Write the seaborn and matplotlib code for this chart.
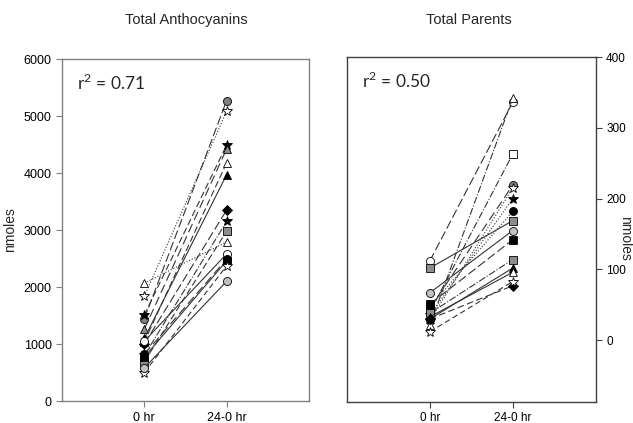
import matplotlib
matplotlib.use("Agg")
import matplotlib.pyplot as plt
import seaborn as sns
import pandas as pd

# ---------------- data ----------------
timepoints = ["0 hr", "24-0 hr"]

anth_0hr = [1440, 1840, 1510, 1260, 2070, 1040, 1100, 1000, 800, 690, 1050, 820, 770, 500, 580]
anth_24hr = [5270, 5080, 4490, 4420, 2790, 4180, 3970, 3350, 3150, 2980, 2580, 2490, 2460, 2370, 2100]
anth_markers = ["o", "*", "*", "^", "^", "^", "^", "D", "*", "s", "o", "o", "s", "*", "o"]
anth_fills = ["#7f7f7f", "white", "black", "#8c8c8c", "white", "white", "black", "black",
              "black", "#8c8c8c", "white", "black", "black", "white", "#c0c0c0"]
anth_styles = [(0, (8, 3)), ":", (0, (6, 3)), (0, (8, 4)), ":", (0, (6, 3)), "-", (0, (8, 3)),
               "-.", (0, (6, 3)), "-", (0, (8, 4)), "-", (0, (5, 3)), "-"]

par_0hr = [112, 21, 40, 45, 28, 35, 47, 102, 67, 51, 38, 30, 33, 30, 12]
par_24hr = [336, 342, 263, 219, 215, 200, 182, 169, 155, 142, 114, 102, 96, 77, 83]
par_markers = ["o", "^", "s", "o", "*", "*", "o", "s", "o", "s", "s", "^", "^", "D", "*"]
par_fills = ["white", "white", "white", "#7f7f7f", "white", "black", "black", "#8c8c8c",
             "#c0c0c0", "black", "#8c8c8c", "black", "white", "black", "white"]
par_styles = [(0, (8, 3)), "-.", "-.", (0, (8, 4)), ":", ":", ":", "-", "-", (0, (8, 3)),
              "-.", "-", "-", (0, (6, 3)), (0, (5, 3))]

titles = ["Total Anthocyanins", "Total Parents"]
r2_labels = ["r$^{\\mathrm{2}}$ = 0.71", "r$^{\\mathrm{2}}$ = 0.50"]
anth_yticks = [0, 1000, 2000, 3000, 4000, 5000, 6000]
par_yticks = [0, 100, 200, 300, 400]

# ---------------- style ----------------
sns.set_style("ticks")
plt.rcParams["font.family"] = ["Liberation Sans", "DejaVu Sans"]
plt.rcParams["mathtext.fontset"] = "custom"
plt.rcParams["mathtext.rm"] = "Lato"

fig = plt.figure(figsize=(6.33, 4.23), dpi=100)
ax1 = fig.add_axes([0.098, 0.052, 0.390, 0.8085])
ax2 = fig.add_axes([0.548, 0.050, 0.393, 0.815])


def draw(ax, v0, v24, markers, fills, styles):
    for i in range(len(v0)):
        df = pd.DataFrame({"time": timepoints, "value": [v0[i], v24[i]]})
        ms = 7.5 if markers[i] == "*" else (5 if markers[i] == "D" else 5.8)
        sns.lineplot(data=df, x="time", y="value", ax=ax, sort=False, errorbar=None,
                     color="#333333", linewidth=0.8, linestyle=styles[i],
                     marker=markers[i], markersize=ms, markerfacecolor=fills[i],
                     markeredgecolor="black", markeredgewidth=0.6)


draw(ax1, anth_0hr, anth_24hr, anth_markers, anth_fills, anth_styles)
draw(ax2, par_0hr, par_24hr, par_markers, par_fills, par_styles)

# left axes
ax1.set_xlim(-1, 2)
ax1.set_ylim(0, 6000)
ax1.set_yticks(anth_yticks)
ax1.set_xticks([0, 1])
ax1.set_xticklabels(timepoints)
ax1.set_xlabel("")
ax1.set_ylabel("nmoles", fontsize=10, labelpad=5)
for s in ax1.spines.values():
    s.set_color("#808080")
    s.set_linewidth(1.0)
ax1.tick_params(axis="both", colors="#808080", labelcolor="black", labelsize=9, length=4, width=0.8)
ax1.tick_params(axis="x", pad=4)

# right axes
ax2.set_xlim(-1, 2)
ax2.set_ylim(-87, 400)
ax2.set_yticks(par_yticks)
ax2.set_xticks([0, 1])
ax2.set_xticklabels(timepoints)
ax2.set_xlabel("")
ax2.set_ylabel("")
ax2.yaxis.tick_right()
for s in ax2.spines.values():
    s.set_color("#404040")
    s.set_linewidth(1.0)
ax2.tick_params(axis="both", colors="#404040", labelcolor="black", labelsize=8.5, length=4, width=0.8)
ax2.tick_params(axis="x", pad=3)

fig.text(0.988, 0.437, "nmoles", rotation=270, ha="center", va="center", fontsize=10)

for ax, t, r2 in zip([ax1, ax2], titles, r2_labels):
    ax.text(0.06, 0.93, r2, transform=ax.transAxes, fontsize=12.5,
            family=["Lato", "DejaVu Sans"], ha="left", va="center")

fig.text(0.295, 0.952, titles[0], ha="center", va="center", fontsize=10.5)
fig.text(0.740, 0.952, titles[1], ha="center", va="center", fontsize=10.5)

fig.savefig("out.png", dpi=100)
